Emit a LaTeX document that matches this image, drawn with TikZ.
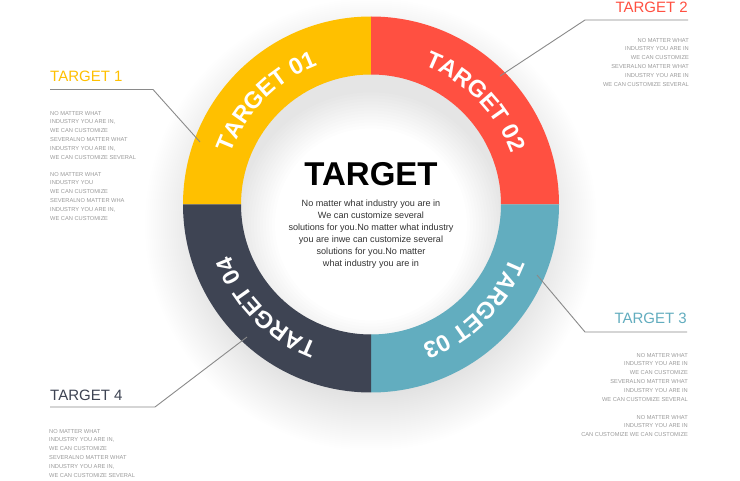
\documentclass[tikz,border=0pt]{standalone}
\usepackage{fontspec}
\setmainfont{Liberation Sans}
\usetikzlibrary{decorations.text}
\definecolor{cyel}{HTML}{FFC000}
\definecolor{cred}{HTML}{FF5041}
\definecolor{cteal}{HTML}{62ADBF}
\definecolor{cdark}{HTML}{3E4453}
\definecolor{cline}{HTML}{8A8A8A}
\definecolor{ctext}{HTML}{9A9A9A}
\definecolor{cbody}{HTML}{333333}
\tikzset{
  title/.style={inner sep=0pt,font=\fontsize{15}{15}\selectfont},
  small/.style={inner sep=0pt,text=ctext,font=\fontsize{5.7}{8.8}\selectfont},
  leader/.style={draw=cline,line width=0.9pt},
  ringlabel/.style={decorate,decoration={text effects along path,text={#1},
    text effects/.cd,text along path,fit text to path,
    characters={text=white,font=\bfseries\fontsize{23.5}{23.5}\selectfont}}}
}
\begin{document}
\begin{tikzpicture}[x=1pt,y=1pt]
\useasboundingbox (0,0) rectangle (740,480);
\fill[white] (0,0) rectangle (740,480);
\def\cx{371}\def\cy{275.5}
% outer soft shadow
\foreach \r in {160,162,...,226} {\fill[black,opacity=0.0045] (\cx,\cy-20) circle (\r);}
\begin{scope}[shift={(\cx,\cy)}]
  % inner disc with inner shadow
  \fill[white] (0,0) circle (130);
  \begin{scope}
    \clip (0,0) circle (130);
    \foreach \r in {96,99,...,132} {\fill[black,opacity=0.009,even odd rule] (0,0) circle (160) (0,-20) circle (\r);}
  \end{scope}
  % ring segments
  \fill[cyel]  (90:188) arc[start angle=90,end angle=180,radius=188] -- (180:130) arc[start angle=180,end angle=90,radius=130] -- cycle;
  \fill[cred]  (0:188) arc[start angle=0,end angle=90,radius=188] -- (90:130) arc[start angle=90,end angle=0,radius=130] -- cycle;
  \fill[cteal] (-90:188) arc[start angle=-90,end angle=0,radius=188] -- (0:130) arc[start angle=0,end angle=-90,radius=130] -- cycle;
  \fill[cdark] (180:188) arc[start angle=180,end angle=270,radius=188] -- (270:130) arc[start angle=270,end angle=180,radius=130] -- cycle;
  % ring labels
  \path[ringlabel={TARGET 01}] (160:149) arc[start angle=160,end angle=111,radius=149];
  \path[ringlabel={TARGET 02}] (69:149) arc[start angle=69,end angle=20,radius=149];
  \path[ringlabel={TARGET 03}] (-21:149) arc[start angle=-21,end angle=-70,radius=149];
  \path[ringlabel={TARGET 04}] (249:149) arc[start angle=249,end angle=200,radius=149];
  % leader end points on ring
  \coordinate (e1) at (-171,62.5);
  \coordinate (e2) at (129,128.5);
  \coordinate (e3) at (166,-70.5);
  \coordinate (e4) at (-124,-132.5);
\end{scope}
% center text
\node[inner sep=0pt,anchor=base,font=\bfseries\fontsize{33}{33}\selectfont] (ctitle) at (371,294.7) {TARGET};
\node[inner sep=0pt,anchor=north,align=center,text=cbody,font=\fontsize{9.1}{12}\selectfont] (cbody) at (371,280)
 {No matter what industry you are in\\We can customize several\\solutions for you.No matter what industry\\you are inwe can customize several\\solutions for you.No matter\\what industry you are in};
% titles
\node[title,text=cyel,anchor=base west] (t1) at (50,398) {TARGET 1};
\node[title,text=cred,anchor=base east] (t2) at (688,467.7) {TARGET 2};
\node[title,text=cteal,anchor=base east] (t3) at (687,156) {TARGET 3};
\node[title,text=cdark,anchor=base west] (t4) at (50,79) {TARGET 4};
% leader lines
\coordinate (a1) at (50,390.5);  \coordinate (b1) at (153,390.5);
\coordinate (a2) at (688,460);   \coordinate (b2) at (585,460);
\coordinate (a3) at (687,148);   \coordinate (b3) at (585,148);
\coordinate (a4) at (50,73);     \coordinate (b4) at (155,73);
\draw[leader] (a1) -- (b1) -- (e1);
\draw[leader] (a2) -- (b2) -- (e2);
\draw[leader] (a3) -- (b3) -- (e3);
\draw[leader] (a4) -- (b4) -- (e4);
% small texts
\node[small,anchor=north west,align=left] (p1a) at (50,369) {NO MATTER WHAT\\INDUSTRY  YOU ARE IN,\\WE CAN CUSTOMIZE\\SEVERALNO MATTER WHAT\\INDUSTRY  YOU ARE IN,\\WE CAN CUSTOMIZE  SEVERAL};
\node[small,anchor=north west,align=left] (p1b) at (50,308) {NO MATTER WHAT\\INDUSTRY  YOU\\WE CAN CUSTOMIZE\\SEVERALNO MATTER WHA\\INDUSTRY  YOU ARE IN,\\WE CAN CUSTOMIZE};
\node[small,anchor=north east,align=right] (p2) at (689,442) {NO MATTER WHAT\\INDUSTRY  YOU ARE IN\\WE CAN CUSTOMIZE\\SEVERALNO MATTER WHAT\\INDUSTRY  YOU ARE IN\\WE CAN CUSTOMIZE  SEVERAL};
\node[small,anchor=north east,align=right] (p3a) at (688,127) {NO MATTER WHAT\\INDUSTRY  YOU ARE IN\\WE CAN CUSTOMIZE\\SEVERALNO MATTER WHAT\\INDUSTRY  YOU ARE IN\\WE CAN CUSTOMIZE  SEVERAL};
\node[small,anchor=north east,align=right] (p3b) at (688,65) {NO MATTER WHAT\\INDUSTRY  YOU ARE IN\\CAN CUSTOMIZE WE CAN CUSTOMIZE};
\node[small,anchor=north west,align=left] (p4) at (49,51) {NO MATTER WHAT\\INDUSTRY  YOU ARE IN,\\WE CAN CUSTOMIZE\\SEVERALNO MATTER WHAT\\INDUSTRY  YOU ARE IN,\\WE CAN CUSTOMIZE  SEVERAL};
\end{tikzpicture}
\end{document}
